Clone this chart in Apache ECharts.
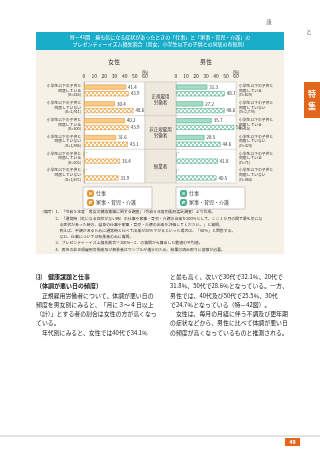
<!DOCTYPE html>
<html>
<head>
<meta charset="utf-8">
<script src="https://cdn.jsdelivr.net/npm/echarts@6/dist/echarts.min.js"></script>
<style>
  html, body { margin: 0; padding: 0; background: #fff; }
  #chart { width: 320px; height: 453px; }
</style>
</head>
<body>
<div id="chart"></div>
<script>
const femaleRows = [
  '小学生以下の子供と\n同居している\n(n=416)',
  '小学生以下の子供と\n同居していない\n(n=1,911)',
  '小学生以下の子供と\n同居している\n(n=400)',
  '小学生以下の子供と\n同居していない\n(n=1,985)',
  '小学生以下の子供と\n同居している\n(n=403)',
  '小学生以下の子供と\n同居していない\n(n=1,672)'
];
const maleRows = [
  '小学生以下の子供と\n同居している\n(n=628)',
  '小学生以下の子供と\n同居していない\n(n=2,778)',
  '小学生以下の子供と\n同居している\n(n=15)',
  '小学生以下の子供と\n同居していない\n(n=428)',
  '小学生以下の子供と\n同居している\n(n=71)',
  '小学生以下の子供と\n同居していない\n(n=865)'
];
const groups = ['正規雇用\n労働者', '非正規雇用\n労働者', '無業者'];

const femaleWork = [41.4, 30.4, 40.2, 31.6, null, null];
const femaleHome = [43.9, 48.6, 43.9, 43.1, 35.4, 33.9];
const maleWork = [31.3, 27.2, 35.7, 28.5, null, null];
const maleHome = [48.7, 48.6, 58.3, 44.6, 41.8, 40.5];

const seriesNames = { fWork: '仕事', fHome: '家事・育児・介護', mWork: '仕事', mHome: '家事・育児・介護' };

const notes = [
  '（備考）1．「令和５年度　男女の健康意識に関する調査」（令和５年度内閣府委託調査）より作成。',
  '　　　　2．「通常時（気になる症状がない時）の仕事や家事・育児・介護の出来を100％として、ここ１か月の間で最も気にな',
  '　　　　　る症状があった時の、自身の仕事や家事・育児・介護の出来を評価してください。」と質問。',
  '　　　　　例えば、不調があるために通常時と比べて出来が20％下がるといった場合は、「80％」と回答する。',
  '　　　　　なお、仕事については有業者のみに質問。',
  '　　　　3．プレゼンティーイズム損失割合＝100％－2．の質問から算出した数値の平均値。',
  '　　　　4．男性の非正規雇用労働者及び無業者はサンプルが僅少のため、結果の読み取りに留意が必要。'
];
const leftText = [
  '　正規雇用労働者について、体調が悪い日の',
  '頻度を男女別にみると、「月に３～４日以上',
  '（計）」とする者の割合は女性の方が高くなっ',
  'ている。',
  '　年代別にみると、女性では40代で34.1％'
];
const rightText = [
  'と最も高く、次いで30代で32.1％、20代で',
  '31.8％、50代で28.6％となっている。一方、',
  '男性では、40代及び50代で25.5％、30代',
  'で24.7％となっている（特－42図）。',
  '　女性は、毎月の月経に伴う不調及び更年期',
  'の症状などから、男性に比べて体調が悪い日',
  'の頻度が高くなっているものと推測される。'
];

const FONT = '"Noto Sans CJK JP", "Noto Sans", sans-serif';

function makePattern(fg) {
  const c = document.createElement('canvas');
  c.width = 4;
  c.height = 4;
  const ctx = c.getContext('2d');
  ctx.fillStyle = '#ffffff';
  ctx.fillRect(0, 0, 4, 4);
  ctx.fillStyle = fg;
  ctx.fillRect(0, 0, 2, 2);
  ctx.fillRect(2, 2, 2, 2);
  return { image: c, repeat: 'repeat' };
}

const GRID_TOP = 82;
const GRID_H = 101;
const grids = [
  { left: 84, top: GRID_TOP, width: 61, height: GRID_H },
  { left: 176, top: GRID_TOP, width: 60, height: GRID_H }
];

function withDash(arr) {
  return arr.map(v => v == null ? { value: 0, label: { formatter: '-', position: 'insideLeft', offset: [0, -2] } } : v);
}

function barSeries(id, idx, data, color, border) {
  return {
    type: 'bar',
    name: id,
    xAxisIndex: idx,
    yAxisIndex: idx,
    data: data,
    barWidth: 5,
    barGap: '35%',
    itemStyle: { color: color, borderColor: border, borderWidth: 0.6 },
    label: {
      show: true,
      position: 'right',
      distance: 2,
      fontSize: 4.5,
      color: '#333',
      fontFamily: FONT
    },
    silent: true
  };
}

const chart = echarts.init(document.getElementById('chart'), null, { renderer: 'canvas' });

const graphics = [];
// panel + banner
graphics.push({ type: 'rect', z: -20, shape: { x: 36, y: 50, width: 248, height: 204 }, style: { fill: '#f5f1e7' } });
graphics.push({ type: 'rect', z: -20, shape: { x: 36, y: 32, width: 248, height: 18 }, style: { fill: '#1aadc9' } });
graphics.push({ type: 'text', x: 160, y: 37, style: { text: '特－41図　最も気になる症状があったときの「仕事」と「家事・育児・介護」の', fill: '#fff', fontSize: 5, fontFamily: FONT, align: 'center', verticalAlign: 'middle' } });
graphics.push({ type: 'text', x: 160, y: 44.5, style: { text: 'プレゼンティーイズム損失割合（男女、小学生以下の子供との同居の有無別）', fill: '#fff', fontSize: 5, fontFamily: FONT, align: 'center', verticalAlign: 'middle' } });
// page head marks
graphics.push({ type: 'text', x: 269, y: 22, style: { text: '康', fill: '#666', fontSize: 5.5, fontFamily: FONT, align: 'center', verticalAlign: 'middle' } });
graphics.push({ type: 'text', x: 309, y: 32, style: { text: 'と', fill: '#666', fontSize: 5.5, fontFamily: FONT, align: 'center', verticalAlign: 'middle' } });
// side tab
graphics.push({ type: 'rect', shape: { x: 304, y: 82, width: 16, height: 36 }, style: { fill: '#e2661c' } });
graphics.push({ type: 'text', x: 312, y: 94, style: { text: '特', fill: '#fff', fontSize: 8, fontWeight: 'bold', fontFamily: FONT, align: 'center', verticalAlign: 'middle' } });
graphics.push({ type: 'text', x: 312, y: 106, style: { text: '集', fill: '#fff', fontSize: 8, fontWeight: 'bold', fontFamily: FONT, align: 'center', verticalAlign: 'middle' } });
// panel titles
graphics.push({ type: 'text', x: 114, y: 62, style: { text: '女性', fill: '#333', fontSize: 6, fontFamily: FONT, align: 'center', verticalAlign: 'middle' } });
graphics.push({ type: 'text', x: 206, y: 62, style: { text: '男性', fill: '#333', fontSize: 6, fontFamily: FONT, align: 'center', verticalAlign: 'middle' } });
graphics.push({ type: 'text', x: 145, y: 72.5, style: { text: '(%)', fill: '#333', fontSize: 4.5, fontFamily: FONT, align: 'center', verticalAlign: 'middle' } });
graphics.push({ type: 'text', x: 236, y: 72.5, style: { text: '(%)', fill: '#333', fontSize: 4.5, fontFamily: FONT, align: 'center', verticalAlign: 'middle' } });
// middle column
const midX = 145, midW = 31;
graphics.push({ type: 'rect', z: 5, shape: { x: midX, y: GRID_TOP, width: midW, height: GRID_H }, style: { fill: '#efe9dd', stroke: '#b8b8b8', lineWidth: 0.5 } });
const rowH = GRID_H / femaleRows.length;
groups.forEach((g, i) => {
  graphics.push({ type: 'text', z: 6, x: midX + midW / 2, y: GRID_TOP + rowH * (2 * i + 1), style: { text: g, fill: '#333', fontSize: 4.5, lineHeight: 6, fontFamily: FONT, align: 'center', verticalAlign: 'middle' } });
  if (i > 0) {
    graphics.push({ type: 'line', z: 6, shape: { x1: 84, y1: GRID_TOP + rowH * 2 * i, x2: 236, y2: GRID_TOP + rowH * 2 * i }, style: { stroke: '#b8b8b8', lineWidth: 0.5 } });
  }
});
// notes
notes.forEach((t, i) => {
  graphics.push({ type: 'text', x: 40, y: 212 + i * 6.2, style: { text: t, fill: '#333', fontSize: 3.9, fontFamily: FONT, verticalAlign: 'middle' } });
});
// body text
graphics.push({ type: 'text', x: 36, y: 277, style: { text: '⑶　健康課題と仕事', fill: '#222', fontSize: 6, fontWeight: 'bold', fontFamily: FONT, verticalAlign: 'middle' } });
graphics.push({ type: 'text', x: 36, y: 286, style: { text: '〔体調が悪い日の頻度〕', fill: '#222', fontSize: 6, fontWeight: 'bold', fontFamily: FONT, verticalAlign: 'middle' } });
leftText.forEach((t, i) => {
  graphics.push({ type: 'text', x: 36, y: 295.3 + i * 9.25, style: { text: t, fill: '#222', fontSize: 5.9, fontFamily: FONT, verticalAlign: 'middle' } });
});
rightText.forEach((t, i) => {
  graphics.push({ type: 'text', x: 170, y: 277 + i * 9.25, style: { text: t, fill: '#222', fontSize: 5.9, fontFamily: FONT, verticalAlign: 'middle' } });
});
// footer
graphics.push({ type: 'line', shape: { x1: 0, y1: 436, x2: 320, y2: 436 }, style: { stroke: '#c8c8c8', lineWidth: 1 } });
graphics.push({ type: 'rect', shape: { x: 285, y: 438, width: 15, height: 8 }, style: { fill: '#e2661c' } });
graphics.push({ type: 'text', x: 292.5, y: 442, style: { text: '49', fill: '#fff', fontSize: 5.5, fontWeight: 'bold', fontFamily: FONT, align: 'center', verticalAlign: 'middle' } });

function valueAxis(idx) {
  return {
    type: 'value',
    gridIndex: idx,
    position: 'top',
    min: 0,
    max: 60,
    interval: 10,
    axisLine: { show: false },
    axisTick: { show: false },
    splitLine: { show: false },
    axisLabel: { fontSize: 5, color: '#333', margin: 3, fontFamily: FONT }
  };
}

function categoryAxis(idx, rows, pos) {
  return {
    type: 'category',
    gridIndex: idx,
    data: rows,
    inverse: true,
    position: pos,
    axisLine: { show: pos === 'left', lineStyle: { color: '#999', width: 0.6 } },
    axisTick: { show: false },
    axisLabel: { fontSize: 3.8, lineHeight: 4.6, color: '#333', margin: 3, fontFamily: FONT }
  };
}

const legendBase = {
  top: 187,
  orient: 'vertical',
  backgroundColor: '#fff',
  borderColor: '#aaa',
  borderWidth: 0.6,
  padding: [3, 16, 3, 4],
  itemWidth: 5,
  itemHeight: 5,
  itemGap: 2,
  selectedMode: false,
  formatter: n => seriesNames[n],
  textStyle: { fontSize: 5, color: '#333', fontFamily: FONT, padding: [0, 0, 0, -2] }
};

chart.setOption({
  animation: false,
  textStyle: { fontFamily: FONT },
  grid: grids.map(g => Object.assign({ show: true, backgroundColor: '#fff', borderColor: '#b8b8b8', borderWidth: 0.5 }, g)),
  xAxis: [valueAxis(0), valueAxis(1)],
  yAxis: [categoryAxis(0, femaleRows, 'left'), categoryAxis(1, maleRows, 'right')],
  legend: [
    Object.assign({}, legendBase, { left: 83, data: ['fWork', 'fHome'] }),
    Object.assign({}, legendBase, { left: 176, data: ['mWork', 'mHome'] })
  ],
  series: [
    barSeries('fWork', 0, withDash(femaleWork), '#fbcb84', '#e3973a'),
    barSeries('fHome', 0, femaleHome, makePattern('#f5be72'), '#e3973a'),
    barSeries('mWork', 1, withDash(maleWork), '#a6dcc5', '#4fae8c'),
    barSeries('mHome', 1, maleHome, makePattern('#96d4bb'), '#4fae8c')
  ],
  graphic: { elements: graphics }
});
</script>
</body>
</html>
